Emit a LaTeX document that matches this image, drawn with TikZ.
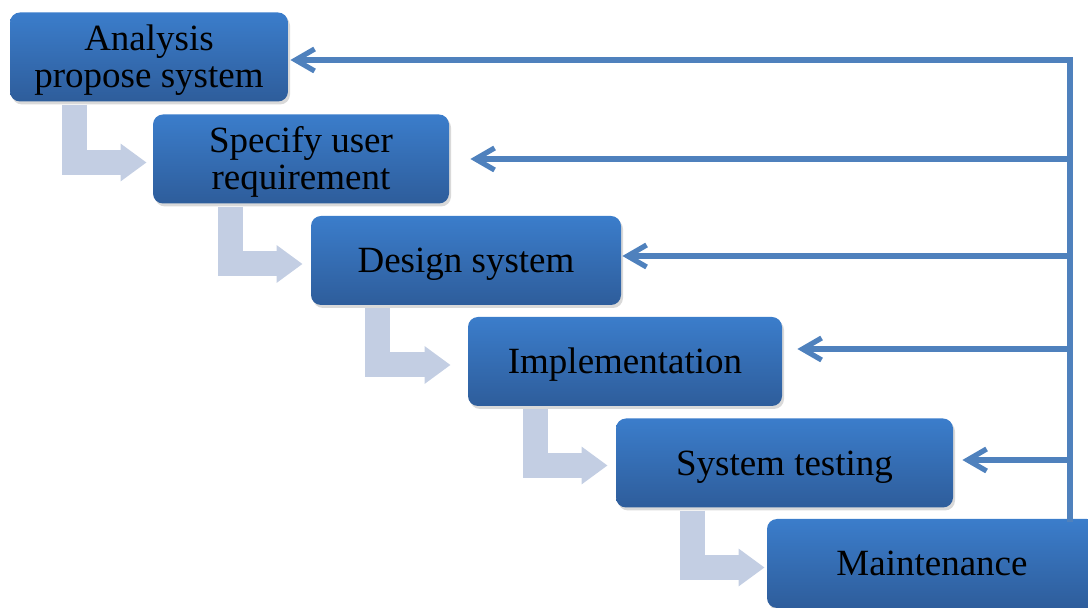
\documentclass[tikz,border=0pt]{standalone}
\usepackage{fontspec}
\setmainfont{Liberation Serif}
\usetikzlibrary{arrows.meta,shadows}

\definecolor{phasetop}{HTML}{3B7DCB}
\definecolor{phasebot}{HTML}{2E5D9B}
\definecolor{flowgrey}{HTML}{C3CEE3}
\definecolor{backblue}{HTML}{4F81BD}

% ascent and descent of the font, so the text sits like in a slide
\newcommand\topstrut{\rule{0pt}{0.891em}}
\newcommand\botstrut{\rule[-0.216em]{0pt}{0.216em}}

\begin{document}
\begin{tikzpicture}[%
    x=0.5pt,
    y=-0.5pt,
    phase/.style={%
      rectangle,
      rounded corners=5pt,
      minimum height=44.5pt,
      inner ysep=1.5pt,
      top color=phasetop,
      bottom color=phasebot,
      drop shadow={shadow xshift=1pt,shadow yshift=-1.5pt,opacity=0.3},
      align=center,
      font=\fontsize{18.5}{18.5}\selectfont,
      execute at begin node=\topstrut,
      execute at end node=\botstrut
    },
    flow/.style={%
      draw=flowgrey,
      line width=12.5pt,
      -{Triangle[width=18pt,length=13pt]}
    },
    feedback/.style={%
      draw=backblue,
      line width=2.6pt,
      -{Straight Barb[length=9.5pt,width=11pt]}
    }
  ]
    \useasboundingbox (0,0) rectangle (1088,608);
    \clip (0,0) rectangle (1088,608);

    % the phases, one step down and right each time
    \node[phase, minimum width=139pt]   (1) at (149,57)      {\topstrut Analysis\\propose system\botstrut};
    \node[phase, minimum width=148pt]   (2) at (301,159)     {\topstrut Specify user\\requirement\botstrut};
    \node[phase, minimum width=155pt]   (3) at (466,260.5)   {Design system};
    \node[phase, minimum width=157pt]   (4) at (625,361.5)   {Implementation};
    \node[phase, minimum width=168.5pt] (5) at (784.5,463)   {System testing};
    \node[phase, minimum width=165pt]   (6) at (932,563.5)   {Maintenance};

    % bent arrows from each phase into the next one
    \foreach \a/\b/\dx/\gap/\dy in {1/2/32.25/3/1.75, 2/3/38.75/4/1.75,
                                    3/4/33.5/8.5/1.75, 4/5/33.75/4/1.25,
                                    5/6/38.25/1/2}
      \draw[flow] ([xshift=\dx pt,yshift=-1.5pt]\a.south west)
                  |- ([xshift=-\gap pt,yshift=-\dy pt]\b.west);

    % way back from maintenance to every earlier phase
    \coordinate (railtop) at (1070,60);
    \coordinate (railend) at (1070,522);
    \draw[feedback] (railend) -- (railtop) -- ([xshift=1pt]1.east |- railtop);
    \foreach \n/\dy/\gap in {2/0/10.5, 3/2.25/0.5, 4/6.25/7.5, 5/1.5/4.5}
      \draw[feedback] ([yshift=\dy pt]\n.east -| railtop)
                      -- ([xshift=\gap pt,yshift=\dy pt]\n.east);
\end{tikzpicture}
\end{document}
